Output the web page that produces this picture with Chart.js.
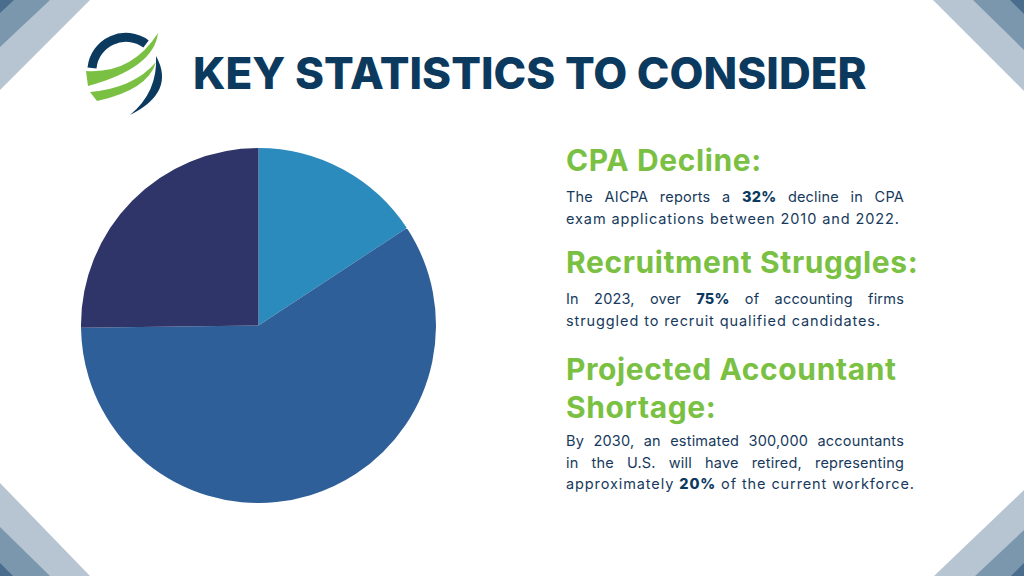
<!DOCTYPE html>
<html>
<head>
<meta charset="utf-8">
<script src="https://cdn.jsdelivr.net/npm/chart.js@4.4.0/dist/chart.umd.min.js"></script>
<style>
  html, body { margin: 0; padding: 0; background: #fff; }
  #page { position: relative; width: 1024px; height: 576px; overflow: hidden; background: #fff; font-family: "Inter", "Open Sans", sans-serif; }
  .deco { position: absolute; left: 0; top: 0; }
  #title { position: absolute; left: 193px; top: 46px; font-size: 44px; font-weight: 800; color: #0c3a5f; white-space: nowrap; }
  #pieBox { position: absolute; left: 81px; top: 148px; width: 355px; height: 355px; }
  .h { position: absolute; left: 566px; color: #7ac143; font-size: 30px; font-weight: 700; white-space: nowrap; line-height: 38px; letter-spacing: 0.6px; }
  .p { position: absolute; left: 566px; width: 338px; color: #173a5c; font-size: 14.5px; line-height: 21.5px; letter-spacing: 0.9px; }
  .p div { white-space: nowrap; }
  .p .j { text-align: justify; text-align-last: justify; white-space: normal; letter-spacing: 0.2px; }
  .p b { font-weight: 800; color: #0c3a5f; }
</style>
</head>
<body>
<div id="page">
  <svg class="deco" width="1024" height="576" viewBox="0 0 1024 576">
    <!-- corner stripes -->
    <polygon points="0,0 90,0 0,90" fill="#b6c5d1"/>
    <polygon points="0,0 50,0 0,47" fill="#7b97ae"/>
    <polygon points="0,0 14,0 0,13" fill="#4a6d8d"/>
    <polygon points="933,0 1024,0 1024,91" fill="#b6c5d1"/>
    <polygon points="973,0 1024,0 1024,50" fill="#7b97ae"/>
    <polygon points="1010,0 1024,0 1024,14" fill="#4a6d8d"/>
    <polygon points="0,483 0,576 90,576" fill="#b6c5d1"/>
    <polygon points="0,527 0,576 50,576" fill="#7b97ae"/>
    <polygon points="0,563 0,576 13,576" fill="#4a6d8d"/>
    <polygon points="1024,490 1024,576 934,576" fill="#b6c5d1"/>
    <polygon points="1024,530 1024,576 975,576" fill="#7b97ae"/>
    <polygon points="1024,563 1024,576 1011,576" fill="#4a6d8d"/>
    <!-- logo -->
    <path d="M 92 68 A 34 34 0 0 1 146 44" fill="none" stroke="#0c3a5f" stroke-width="9"/>
    <path d="M 156 56 Q 176 92 130 115 Q 158 92 156 56 Z" fill="#0c3a5f"/>
    <path d="M 86 71 Q 132 74 158 33 Q 154 68 88 86 Z" fill="#7ac143"/>
    <path d="M 90 92 Q 134 88 156 62 Q 148 90 97 101 Z" fill="#7ac143"/>
  </svg>

  <div id="title">KEY STATISTICS TO CONSIDER</div>

  <div id="pieBox"><canvas id="pie"></canvas></div>

  <div class="h" style="top:141px">CPA Decline:</div>
  <div class="p" style="top:186px">
    <div class="j">The AICPA reports a <b>32%</b> decline in CPA</div>
    <div>exam applications between 2010 and 2022.</div>
  </div>

  <div class="h" style="top:243px">Recruitment Struggles:</div>
  <div class="p" style="top:288px">
    <div class="j">In 2023, over <b>75%</b> of accounting firms</div>
    <div>struggled to recruit qualified candidates.</div>
  </div>

  <div class="h" style="top:350px">Projected Accountant<br>Shortage:</div>
  <div class="p" style="top:430px">
    <div class="j">By 2030, an estimated 300,000 accountants</div>
    <div class="j">in the U.S. will have retired, representing</div>
    <div>approximately <b>20%</b> of the current workforce.</div>
  </div>
</div>

<script>
const sliceLabels = ["Projected Accountant Shortage", "Recruitment Struggles", "CPA Decline"];
const sliceValues = [20, 75, 32];
const sliceColors = ["#2b8bbd", "#2e5f99", "#2f3469"];

new Chart(document.getElementById("pie"), {
  type: "pie",
  data: {
    labels: sliceLabels,
    datasets: [{ data: sliceValues, backgroundColor: sliceColors, borderWidth: 0 }]
  },
  options: {
    responsive: true,
    maintainAspectRatio: false,
    animation: false,
    layout: { padding: 0 },
    plugins: { legend: { display: false }, tooltip: { enabled: false } }
  }
});
</script>
</body>
</html>
